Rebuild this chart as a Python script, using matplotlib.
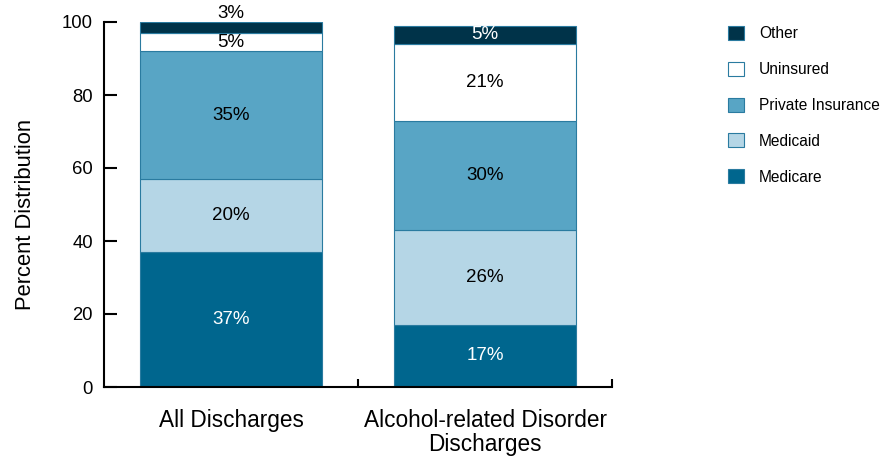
import matplotlib
matplotlib.use("Agg")
import matplotlib.pyplot as plt
from matplotlib.patches import Patch
import numpy as np

plt.rcParams['font.family'] = ['Liberation Sans', 'DejaVu Sans']

categories = ["All Discharges", "Alcohol-related Disorder\nDischarges"]
series = ["Medicare", "Medicaid", "Private Insurance", "Uninsured", "Other"]
values = {
    "Medicare": [37, 17],
    "Medicaid": [20, 26],
    "Private Insurance": [35, 30],
    "Uninsured": [5, 21],
    "Other": [3, 5],
}
colors = {
    "Medicare": "#00668e",
    "Medicaid": "#b5d6e6",
    "Private Insurance": "#58a5c5",
    "Uninsured": "#ffffff",
    "Other": "#003349",
}
text_colors = {
    "Medicare": "white",
    "Medicaid": "black",
    "Private Insurance": "black",
    "Uninsured": "black",
    "Other": "white",
}
edge = "#2a7ba0"

fig = plt.figure(figsize=(8.81, 4.59), dpi=100)
ax = fig.add_axes([104/881, 1-387/459, (612-104)/881, (387-22)/459])

x = np.arange(len(categories))
width = 0.72
bottom = np.zeros(len(categories))
for s in series:
    v = np.array(values[s], dtype=float)
    ax.bar(x, v, width, bottom=bottom, color=colors[s], edgecolor=edge, linewidth=0.8, label=s)
    for i in range(len(categories)):
        if s == "Other" and v[i] < 4:
            ax.text(x[i], bottom[i] + v[i] - 0.1, f"{int(v[i])}%", ha='center', va='bottom',
                    fontsize=13.5, color='black')
        else:
            ax.text(x[i], bottom[i] + v[i] / 2, f"{int(v[i])}%", ha='center', va='center',
                    fontsize=13.5, color=text_colors[s])
    bottom += v

ax.set_xlim(-0.5, 1.5)
ax.set_ylim(0, 100)
ax.set_yticks([0, 20, 40, 60, 80, 100])
ax.tick_params(axis='y', direction='in', length=9, width=1.5, labelsize=13.3, pad=8)
ax.set_xticks(x)
ax.set_xticklabels(categories, fontsize=16.3, linespacing=1.02)
ax.tick_params(axis='x', which='major', length=0, pad=16)
ax.set_xticks([0.5, 1.5], minor=True)
ax.tick_params(axis='x', which='minor', direction='in', length=6, width=1.5)
for sp in ['top', 'right']:
    ax.spines[sp].set_visible(False)
for sp in ['left', 'bottom']:
    ax.spines[sp].set_linewidth(1.5)
ax.set_ylabel("Percent Distribution", fontsize=15.8)
ax.yaxis.set_label_coords((36 - 104) / 508, (387 - 215) / 365)

handles = [Patch(facecolor=colors[s], edgecolor=edge, linewidth=0.8, label=s) for s in reversed(series)]
fig.legend(handles=handles, loc='upper left', bbox_to_anchor=(0.8193, 0.957), frameon=False,
           fontsize=11.2, handlelength=1.0, handleheight=1.0, labelspacing=1.32, handletextpad=1.0,
           borderaxespad=0)

fig.savefig("out.png", dpi=100)
